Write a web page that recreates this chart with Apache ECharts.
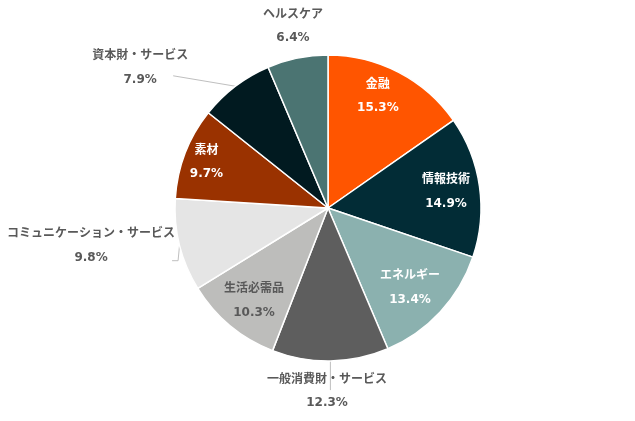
<!DOCTYPE html>
<html><head><meta charset="utf-8">
<script src="https://cdn.jsdelivr.net/npm/echarts@6/dist/echarts.min.js"></script>
<style>html,body{margin:0;padding:0;background:#fff}#c{width:635px;height:421px}</style>
</head><body><div id="c"></div>
<script>
const categories = ['金融','情報技術','エネルギー','一般消費財・サービス','生活必需品','コミュニケーション・サービス','素材','資本財・サービス','ヘルスケア'];
const weights = [15.3, 14.9, 13.4, 12.3, 10.3, 9.8, 9.7, 7.9, 6.4];
const sliceColors = ['#FF5500','#022C36','#8BB1AF','#5E5E5E','#BDBDBB','#E5E5E5','#9A3200','#011A20','#4B7472'];
const labelColors = ['#ffffff','#ffffff','#ffffff','#595959','#595959','#595959','#ffffff','#595959','#595959'];
// label placement style: [radial factor, angle shift in degrees]
const labelPlace = [[0.80,-3.5],[0.778,0.4],[0.749,1.5],[1.2,1.2],[0.777,-1.3],[1.568,5],[0.849,-0.4],[1.532,-16],[1.21,0.6]];
// leader line bends: [xAnchor, dx, yAnchor, dy]; anchors: 'e' = slice edge, 'l' = label centre
const leaderBends = [null,null,null,[['e',0,'l',-1.5]],null,[['e',-1.5,'l',15],['l',81,'l',15]],null,[['l',33,'l',8]],null];

const CX = 328, CY = 208, R = 153;
const total = weights.reduce((a,b)=>a+b,0);
const midAngles = [];
{ let acc = 0; weights.forEach(v => { midAngles.push((acc + v/2)/total*360); acc += v; }); }
function polar(k, deg){ const t = deg*Math.PI/180; return [CX + k*R*Math.sin(t), CY - k*R*Math.cos(t)]; }

const chart = echarts.init(document.getElementById('c'), null, {renderer:'canvas'});
chart.setOption({
  backgroundColor: '#ffffff',
  animation: false,
  series: [{
    type: 'pie',
    center: [CX, CY],
    radius: R,
    startAngle: 90,
    clockwise: true,
    avoidLabelOverlap: false,
    itemStyle: { borderColor: '#ffffff', borderWidth: 1.5 },
    label: {
      show: true,
      position: 'outside',
      width: 220,
      overflow: 'none',
      fontFamily: 'DejaVu Sans, "Noto Sans CJK JP", sans-serif',
      fontSize: 12,
      fontWeight: 'bold',
      lineHeight: 23.5,
      align: 'center',
      formatter: p => p.name + '\n' + p.value.toFixed(1) + '%'
    },
    labelLine: { show: false, lineStyle: { color: '#BFBFBF', width: 1 } },
    labelLayout: function (params) {
      const i = params.dataIndex;
      const pl = labelPlace[i];
      const c = polar(pl[0], midAngles[i] + pl[1]);
      const out = { x: c[0], y: c[1], align: 'center', verticalAlign: 'middle' };
      if (leaderBends[i]) {
        const e = polar(1.0, midAngles[i]);
        const pts = [e];
        leaderBends[i].forEach(b => {
          const x = (b[0] === 'e' ? e[0] : c[0]) + b[1];
          const y = (b[2] === 'e' ? e[1] : c[1]) + b[3];
          pts.push([x, y]);
        });
        out.labelLinePoints = pts;
      }
      return out;
    },
    data: categories.map((name, i) => ({
      name: name,
      value: weights[i],
      itemStyle: { color: sliceColors[i] },
      label: { color: labelColors[i] },
      labelLine: { show: !!leaderBends[i] }
    }))
  }]
});
</script>
</body></html>
